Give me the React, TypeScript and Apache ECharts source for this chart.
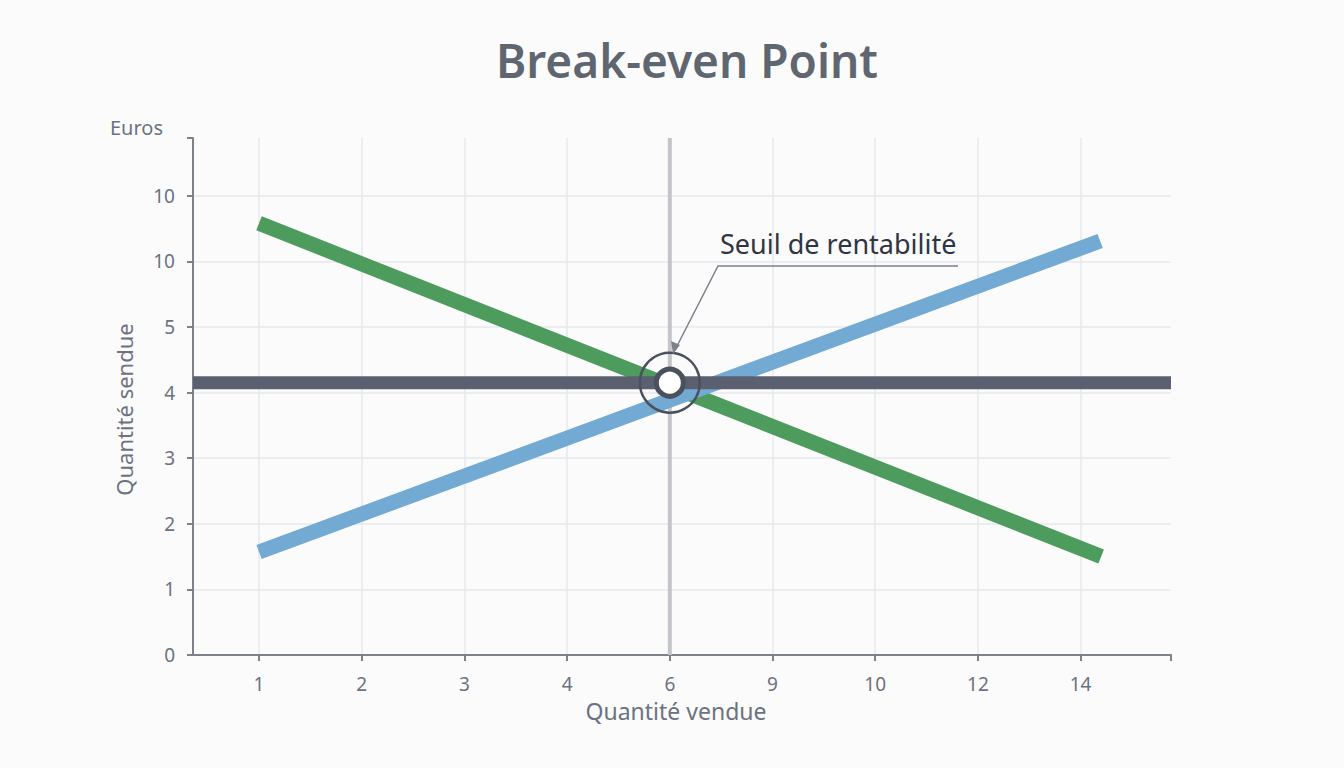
import React, { useEffect, useRef } from "react";
import * as echarts from "echarts";

const xTickLabels = ["1", "2", "3", "4", "6", "9", "10", "12", "14"];
const yTickLabels = ["0", "1", "2", "3", "4", "5", "10", "10"];
const greenX = [0, 8.2];
const greenY = [6.58, 1.5];
const blueX = [0, 8.19];
const blueY = [1.57, 6.31];
const fixedLevel = 4.15;
const breakEvenX = 4;
const xMin = -0.643;
const xMax = 8.88;
const yMax = 7.88;

const FONT = "Noto Sans";
const TXT = "#6b7280";

export default function App() {
  const ref = useRef<HTMLDivElement>(null);
  useEffect(() => {
    document.body.style.margin = "0";
    const chart = echarts.init(ref.current!, null, { renderer: "svg" });
    const xIdx = xTickLabels.map((_, i) => i);
    const yIdx = yTickLabels.map((_, i) => i);
    const gridLinesData: any[] = [];
    yIdx.slice(1).forEach((v) => gridLinesData.push([{ coord: [xMin, v] }, { coord: [xMax, v] }]));
    xIdx.forEach((v) => gridLinesData.push([{ coord: [v, 0] }, { coord: [v, yMax] }]));

    const option: any = {
      animation: false,
      backgroundColor: "#fbfbfb",
      title: {
        text: "Break-even Point",
        left: 491,
        top: 32,
        textStyle: { fontFamily: FONT, fontSize: 46, fontWeight: 600, color: "#5f6670" },
      },
      grid: { left: 193, right: 173, top: 138, bottom: 113 },
      xAxis: {
        type: "value",
        min: xMin,
        max: xMax,
        name: "Quantité vendue",
        nameLocation: "middle",
        nameGap: 44,
        nameTextStyle: { fontFamily: FONT, fontSize: 23, color: TXT, padding: [0, 12, 0, 0] },
        axisLine: { show: true, onZero: false, lineStyle: { color: "#7c818c", width: 2 } },
        axisTick: { show: true, customValues: [...xIdx, xMax], length: 6, lineStyle: { color: "#7c818c", width: 2 } },
        axisLabel: {
          customValues: xIdx,
          margin: 19,
          formatter: (v: number) => xTickLabels[Math.round(v)] ?? "",
          fontFamily: FONT,
          fontSize: 19,
          color: TXT,
        },
        splitLine: { show: false },
      },
      yAxis: {
        type: "value",
        min: 0,
        max: yMax,
        name: "Quantité sendue",
        nameLocation: "middle",
        nameRotate: 90,
        nameGap: 58,
        nameTextStyle: { fontFamily: FONT, fontSize: 22, color: TXT, padding: [0, 0, 0, -26] },
        axisLine: { show: true, onZero: false, lineStyle: { color: "#7c818c", width: 2 } },
        axisTick: { show: true, customValues: [...yIdx, yMax], length: 6, lineStyle: { color: "#7c818c", width: 2 } },
        axisLabel: {
          customValues: yIdx,
          margin: 18,
          formatter: (v: number) => yTickLabels[Math.round(v)] ?? "",
          fontFamily: FONT,
          fontSize: 19,
          color: TXT,
        },
        splitLine: { show: false },
      },
      graphic: [
        {
          type: "text",
          left: 110,
          top: 117,
          z: 100,
          style: { text: "Euros", fontFamily: FONT, fontSize: 20, fill: TXT },
        },
        {
          type: "text",
          left: 720,
          top: 230,
          z: 100,
          style: { text: "Seuil de rentabilité", fontFamily: FONT, fontSize: 27, fill: "#2f3542" },
        },
        {
          type: "polyline",
          z: 100,
          shape: { points: [[958, 266], [718, 266], [677, 346]] },
          style: { stroke: "#7c818c", lineWidth: 1.5, fill: "none" },
        },
        {
          type: "polygon",
          z: 100,
          shape: { points: [[673, 354], [671, 341], [680, 345]] },
          style: { fill: "#7c818c" },
        },
      ],
      series: [
        {
          type: "line",
          silent: true,
          data: [],
          z: 0,
          markLine: {
            silent: true,
            z: 0,
            symbol: "none",
            label: { show: false },
            lineStyle: { color: "#e7e9ed", width: 1.5, type: "solid" },
            emphasis: { disabled: true },
            data: gridLinesData,
          },
        },
        {
          type: "line",
          silent: true,
          data: [[breakEvenX, 0], [breakEvenX, yMax]],
          symbol: "none",
          lineStyle: { color: "#c3c5cb", width: 4 },
          z: 2,
        },
        {
          name: "Coûts variables",
          type: "line",
          silent: true,
          data: greenX.map((x, i) => [x, greenY[i]]),
          symbol: "none",
          lineStyle: { color: "#4e9b5e", width: 15 },
          z: 3,
        },
        {
          name: "Chiffre d'affaires",
          type: "line",
          silent: true,
          data: blueX.map((x, i) => [x, blueY[i]]),
          symbol: "none",
          lineStyle: { color: "#72aad3", width: 15 },
          z: 3,
        },
        {
          name: "Coûts fixes",
          type: "line",
          silent: true,
          data: [[xMin, fixedLevel], [xMax, fixedLevel]],
          symbol: "none",
          lineStyle: { color: "#5b6070", width: 13 },
          z: 4,
        },
        {
          type: "scatter",
          silent: true,
          data: [[breakEvenX, fixedLevel]],
          symbol: "circle",
          symbolSize: 60,
          itemStyle: { color: "rgba(0,0,0,0)", borderColor: "#4a505c", borderWidth: 2.5, opacity: 1 },
          z: 5,
        },
        {
          type: "scatter",
          silent: true,
          data: [[breakEvenX, fixedLevel]],
          symbol: "circle",
          symbolSize: 27,
          itemStyle: { color: "#ffffff", borderColor: "#4a505c", borderWidth: 5, opacity: 1 },
          z: 6,
        },
      ],
    };
    chart.setOption(option);
    return () => chart.dispose();
  }, []);
  return <div ref={ref} style={{ width: 1344, height: 768 }} />;
}
